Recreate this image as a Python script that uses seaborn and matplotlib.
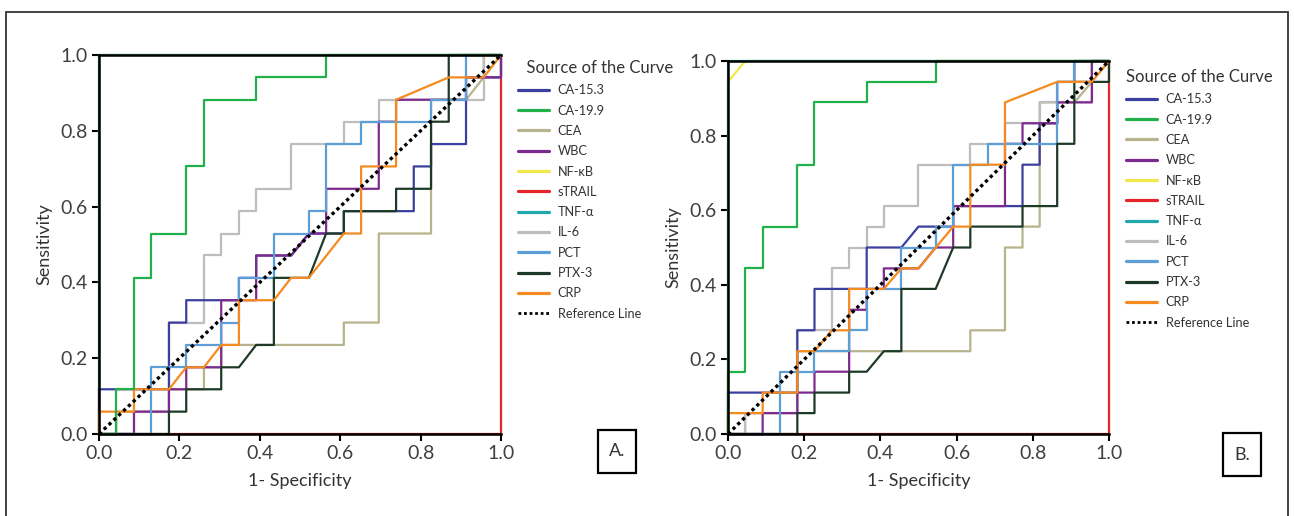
import numpy as np
import pandas as pd
import matplotlib
matplotlib.use("Agg")
import matplotlib.pyplot as plt
from matplotlib.lines import Line2D
from matplotlib.patches import Rectangle
import seaborn as sns

# Legend / series names and colours
names = ["CA-15.3", "CA-19.9", "CEA", "WBC", "NF-κB", "sTRAIL",
         "TNF-α", "IL-6", "PCT", "PTX-3", "CRP"]
colors = ["#3b3f9f", "#22b04b", "#b7b38c", "#7d2a8f", "#f2e84b", "#e5252a",
          "#21a9ad", "#bdbdbd", "#5b9fd6", "#1d3a26", "#f58a20"]
ticks = [0.0, 0.2, 0.4, 0.6, 0.8, 1.0]

# Panel A: ROC points (1-specificity, sensitivity)
A_CA153 = ([0, 0, 0.174, 0.174, 0.217, 0.217, 0.348, 0.348, 0.391, 0.391, 0.478, 0.522, 0.609, 0.609, 0.783, 0.783, 0.826, 0.826, 0.913, 0.913, 1, 1],
           [0, 0.118, 0.118, 0.294, 0.294, 0.353, 0.353, 0.412, 0.412, 0.471, 0.471, 0.529, 0.529, 0.588, 0.588, 0.706, 0.706, 0.765, 0.765, 0.941, 0.941, 1])
A_CA199 = ([0, 0.043, 0.043, 0.087, 0.087, 0.13, 0.13, 0.217, 0.217, 0.261, 0.261, 0.391, 0.391, 0.565, 0.565, 1],
           [0, 0, 0.118, 0.118, 0.412, 0.412, 0.529, 0.529, 0.706, 0.706, 0.882, 0.882, 0.941, 0.941, 1, 1])
A_CEA = ([0, 0.043, 0.043, 0.174, 0.174, 0.261, 0.261, 0.304, 0.304, 0.609, 0.609, 0.696, 0.696, 0.826, 0.826, 0.913, 0.957, 0.957, 1],
         [0, 0, 0.059, 0.059, 0.118, 0.118, 0.176, 0.176, 0.235, 0.235, 0.294, 0.294, 0.529, 0.529, 0.882, 0.882, 0.941, 1, 1])
A_WBC = ([0, 0.087, 0.087, 0.174, 0.174, 0.217, 0.217, 0.304, 0.304, 0.391, 0.391, 0.478, 0.522, 0.565, 0.565, 0.696, 0.696, 0.739, 0.739, 0.913, 0.913, 1, 1],
         [0, 0, 0.059, 0.059, 0.118, 0.118, 0.176, 0.176, 0.353, 0.353, 0.471, 0.471, 0.529, 0.529, 0.647, 0.647, 0.824, 0.824, 0.882, 0.882, 0.941, 0.941, 1])
A_NFKB = ([0, 0, 1], [0, 1, 1])
A_STRAIL = ([0, 1, 1], [0, 0, 1])
A_TNFA = ([0, 0, 1], [0, 1, 1])
A_IL6 = ([0, 0.087, 0.087, 0.174, 0.174, 0.261, 0.261, 0.304, 0.304, 0.348, 0.348, 0.391, 0.391, 0.478, 0.478, 0.609, 0.609, 0.696, 0.696, 0.957, 0.957, 1],
         [0, 0, 0.059, 0.059, 0.294, 0.294, 0.471, 0.471, 0.529, 0.529, 0.588, 0.588, 0.647, 0.647, 0.765, 0.765, 0.824, 0.824, 0.882, 0.882, 1, 1])
A_PCT = ([0, 0.13, 0.13, 0.217, 0.217, 0.304, 0.304, 0.348, 0.348, 0.435, 0.435, 0.522, 0.522, 0.565, 0.565, 0.652, 0.652, 0.826, 0.826, 0.913, 0.913, 1],
         [0, 0, 0.176, 0.176, 0.235, 0.235, 0.294, 0.294, 0.412, 0.412, 0.529, 0.529, 0.588, 0.588, 0.765, 0.765, 0.824, 0.824, 0.882, 0.882, 1, 1])
A_PTX3 = ([0, 0.174, 0.174, 0.217, 0.217, 0.304, 0.304, 0.348, 0.391, 0.435, 0.435, 0.522, 0.565, 0.609, 0.609, 0.739, 0.739, 0.826, 0.826, 0.87, 0.87, 1],
          [0, 0, 0.059, 0.059, 0.118, 0.118, 0.176, 0.176, 0.235, 0.235, 0.412, 0.412, 0.529, 0.529, 0.588, 0.588, 0.647, 0.647, 0.824, 0.824, 1, 1])
A_CRP = ([0, 0, 0.087, 0.087, 0.174, 0.217, 0.261, 0.304, 0.348, 0.348, 0.435, 0.478, 0.522, 0.609, 0.652, 0.652, 0.739, 0.739, 0.87, 0.957, 1],
         [0, 0.059, 0.059, 0.118, 0.118, 0.176, 0.176, 0.235, 0.235, 0.353, 0.353, 0.412, 0.412, 0.529, 0.529, 0.706, 0.706, 0.882, 0.941, 0.941, 1])

# Panel B
B_CA153 = ([0, 0, 0.182, 0.182, 0.227, 0.227, 0.364, 0.364, 0.455, 0.5, 0.591, 0.591, 0.773, 0.773, 0.818, 0.818, 0.864, 0.864, 0.909, 0.909, 1],
           [0, 0.111, 0.111, 0.278, 0.278, 0.389, 0.389, 0.5, 0.5, 0.556, 0.556, 0.611, 0.611, 0.722, 0.722, 0.833, 0.833, 0.944, 0.944, 1, 1])
B_CA199 = ([0, 0, 0.045, 0.045, 0.091, 0.091, 0.182, 0.182, 0.227, 0.227, 0.364, 0.364, 0.545, 0.545, 1],
           [0, 0.167, 0.167, 0.444, 0.444, 0.556, 0.556, 0.722, 0.722, 0.889, 0.889, 0.944, 0.944, 1, 1])
B_CEA = ([0, 0.045, 0.045, 0.182, 0.182, 0.636, 0.636, 0.727, 0.727, 0.773, 0.773, 0.818, 0.818, 0.909, 0.955, 0.955, 1],
         [0, 0, 0.056, 0.056, 0.222, 0.222, 0.278, 0.278, 0.5, 0.5, 0.556, 0.556, 0.889, 0.889, 0.944, 1, 1])
B_WBC = ([0, 0.091, 0.091, 0.182, 0.182, 0.227, 0.227, 0.318, 0.318, 0.364, 0.364, 0.409, 0.409, 0.5, 0.545, 0.591, 0.591, 0.727, 0.727, 0.773, 0.773, 0.864, 0.864, 0.955, 0.955, 1],
         [0, 0, 0.056, 0.056, 0.111, 0.111, 0.167, 0.167, 0.333, 0.333, 0.389, 0.389, 0.444, 0.444, 0.5, 0.5, 0.611, 0.611, 0.778, 0.778, 0.833, 0.833, 0.889, 0.889, 1, 1])
B_NFKB = ([0, 0, 0.045, 1], [0, 0.944, 1, 1])
B_STRAIL = ([0, 1, 1], [0, 0, 1])
B_TNFA = ([0, 0, 1], [0, 1, 1])
B_IL6 = ([0, 0.045, 0.045, 0.182, 0.182, 0.273, 0.273, 0.318, 0.318, 0.364, 0.364, 0.409, 0.409, 0.5, 0.5, 0.636, 0.636, 0.727, 0.727, 0.818, 0.818, 0.955, 0.955, 1],
         [0, 0, 0.056, 0.056, 0.278, 0.278, 0.444, 0.444, 0.5, 0.5, 0.556, 0.556, 0.611, 0.611, 0.722, 0.722, 0.778, 0.778, 0.833, 0.833, 0.889, 0.889, 1, 1])
B_PCT = ([0, 0.136, 0.136, 0.227, 0.227, 0.318, 0.318, 0.364, 0.364, 0.455, 0.455, 0.545, 0.545, 0.591, 0.591, 0.682, 0.682, 0.864, 0.864, 0.909, 0.909, 1],
         [0, 0, 0.167, 0.167, 0.222, 0.222, 0.278, 0.278, 0.389, 0.389, 0.5, 0.5, 0.556, 0.556, 0.722, 0.722, 0.778, 0.778, 0.944, 0.944, 1, 1])
B_PTX3 = ([0, 0.182, 0.182, 0.227, 0.227, 0.318, 0.318, 0.364, 0.409, 0.455, 0.455, 0.545, 0.591, 0.636, 0.636, 0.773, 0.773, 0.864, 0.864, 0.909, 0.909, 1, 1],
          [0, 0, 0.056, 0.056, 0.111, 0.111, 0.167, 0.167, 0.222, 0.222, 0.389, 0.389, 0.5, 0.5, 0.556, 0.556, 0.611, 0.611, 0.778, 0.778, 0.944, 0.944, 1])
B_CRP = ([0, 0, 0.091, 0.091, 0.182, 0.182, 0.227, 0.273, 0.318, 0.318, 0.409, 0.455, 0.5, 0.591, 0.636, 0.636, 0.727, 0.727, 0.864, 0.955, 1],
         [0, 0.056, 0.056, 0.111, 0.111, 0.222, 0.222, 0.278, 0.278, 0.389, 0.389, 0.444, 0.444, 0.556, 0.556, 0.722, 0.722, 0.889, 0.944, 0.944, 1])

panel_a = [A_CA153, A_CA199, A_CEA, A_WBC, A_NFKB, A_STRAIL, A_TNFA, A_IL6, A_PCT, A_PTX3, A_CRP]
panel_b = [B_CA153, B_CA199, B_CEA, B_WBC, B_NFKB, B_STRAIL, B_TNFA, B_IL6, B_PCT, B_PTX3, B_CRP]

sns.set_style("ticks")
plt.rcParams['font.family'] = ['Lato', 'DejaVu Sans']

W, H = 1294, 516
fig = plt.figure(figsize=(W / 100, H / 100), dpi=100)

# outer frame
fig.patches.append(Rectangle((6 / W, -0.05), 1282 / W, 1.05 - 12 / H, transform=fig.transFigure,
                             fill=False, ec="#333333", lw=1.3, zorder=0))

axA = fig.add_axes([99 / W, 82 / H, 402 / W, 379 / H])
axB = fig.add_axes([728 / W, 82 / H, 381 / W, 373 / H])


def draw_panel(ax, curves, leg_xy, box_xy, tag, title):
    # edge curves first so the spines cover them
    order = [4, 6, 5, 2, 7, 0, 3, 8, 9, 10, 1]
    for i in order:
        xs, ys = curves[i]
        z = 1 if i in (4, 6) else 2
        sns.lineplot(x=xs, y=ys, sort=False, estimator=None, color=colors[i],
                     lw=1.6, ax=ax, clip_on=False, zorder=z)
    sns.lineplot(x=[0, 1], y=[0, 1], sort=False, estimator=None, color="black",
                 lw=2.4, ls=(0, (1, 1)), ax=ax, zorder=4)
    ax.set_xlim(0, 1)
    ax.set_ylim(0, 1)
    ax.set_xticks(ticks)
    ax.set_yticks(ticks)
    ax.set_xticklabels([f"{t:.1f}" for t in ticks])
    ax.set_yticklabels([f"{t:.1f}" for t in ticks])
    ax.tick_params(labelsize=14, length=5, width=1.5, colors="black",
                   labelcolor="#404040", pad=3)
    for s in ["left", "bottom", "top"]:
        ax.spines[s].set_linewidth(1.8)
        ax.spines[s].set_color("black")
    ax.spines["right"].set_visible(False)
    ax.set_xlabel("1- Specificity", fontsize=13, color="#333333", labelpad=8)
    ax.set_ylabel("Sensitivity", fontsize=13, color="#333333", labelpad=6)

    handles = [Line2D([], [], color=c, lw=2.3) for c in colors]
    handles.append(Line2D([], [], color="black", lw=2, ls=(0, (1, 1))))
    leg = ax.legend(handles, names + ["Reference Line"], loc="upper left",
                    bbox_to_anchor=(leg_xy[0] / W, 1 - leg_xy[1] / H),
                    bbox_transform=fig.transFigure, frameon=False,
                    title=title, fontsize=9.2, title_fontsize=12,
                    handlelength=2.4, handletextpad=0.7, labelspacing=0.65,
                    borderpad=0, borderaxespad=0, alignment="left")
    for t in leg.get_texts():
        t.set_color("#333333")
    leg.get_title().set_color("#333333")

    bx, by = box_xy
    fig.patches.append(Rectangle((bx / W, 1 - (by + 43) / H), 38 / W, 43 / H,
                                 transform=fig.transFigure, fill=False, ec="black", lw=1.6))
    fig.text((bx + 19) / W, 1 - (by + 21.5) / H, tag, ha="center", va="center",
             fontsize=13, color="#333333")


draw_panel(axA, panel_a, (518, 60), (598, 430), "A.", "  Source of the Curve")
draw_panel(axB, panel_b, (1126, 69), (1223, 433), "B.", "Source of the Curve")

fig.savefig("out.png", dpi=100)
